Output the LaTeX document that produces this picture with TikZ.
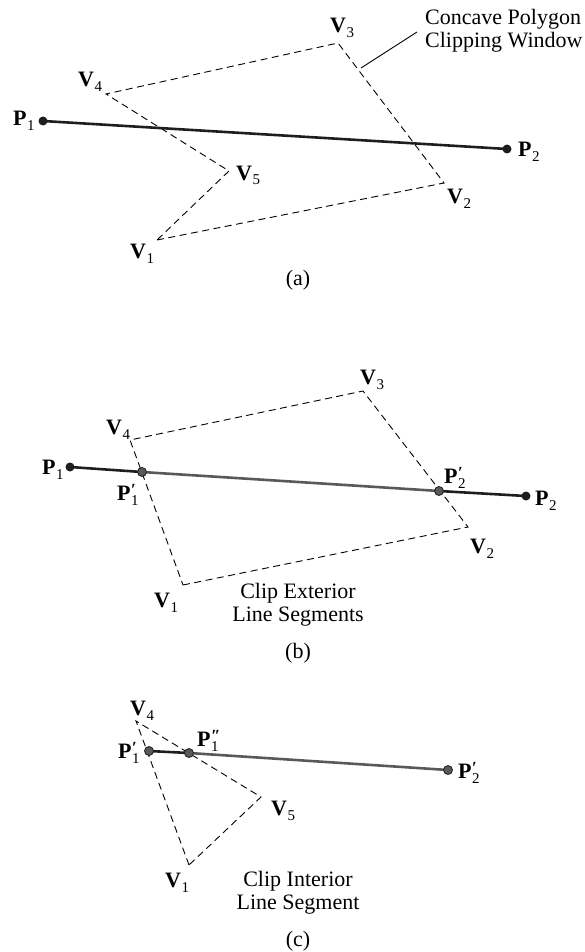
\documentclass[tikz,border=0pt]{standalone}
\usepackage{fontspec}
\setmainfont{Liberation Serif}
\definecolor{dk}{HTML}{1E1E1E}
\definecolor{gr}{HTML}{595959}
\newcommand\lb[2]{\textbf{#1}\kern0.5pt\raisebox{-5pt}{\fontsize{15}{15}\selectfont #2}}
\newcommand\lbp[3]{\textbf{#1}\kern0.5pt\rlap{\raisebox{4.5pt}{\fontsize{17}{17}\selectfont\bfseries #2}}\raisebox{-5.5pt}{\fontsize{15}{15}\selectfont #3}}
\begin{document}
\begin{tikzpicture}[x=1pt,y=-1pt,
  polyedge/.style={dash pattern=on 7pt off 4.5pt, line width=0.9pt, draw=black},
  segdark/.style={line width=2.6pt, draw=dk},
  seggray/.style={line width=2.6pt, draw=gr},
  enddot/.style={circle, fill=dk, minimum size=9pt, inner sep=0pt},
  clipdot/.style={circle, fill=gr, draw=dk, line width=0.8pt, minimum size=9pt, inner sep=0pt},
  lab/.style={anchor=base west, inner sep=0pt, font=\fontsize{22}{23}\selectfont},
  captxt/.style={inner sep=0pt, font=\fontsize{22}{23}\selectfont}]
\useasboundingbox (0,0) rectangle (585,952);

% ---------------- (a) ----------------
\coordinate (aV1) at (157,240);
\coordinate (aV2) at (444,183);
\coordinate (aV3) at (338,43);
\coordinate (aV4) at (106,94);
\coordinate (aV5) at (229,171);
\coordinate (aP1) at (43,121);
\coordinate (aP2) at (507,149);
\draw[polyedge] (aV1) -- (aV2) -- (aV3) -- (aV4) -- (aV5) -- cycle;
\draw[segdark] (aP1) -- (aP2);
\node[enddot] (aD1) at (aP1) {};
\node[enddot] (aD2) at (aP2) {};
\node[lab] (aL1) at (13,126) {\lb{P}{1}};
\node[lab] (aL2) at (518,157) {\lb{P}{2}};
\node[lab] (aLV1) at (130,258) {\lb{V}{1}};
\node[lab] (aLV2) at (447,204) {\lb{V}{2}};
\node[lab] (aLV3) at (330,33) {\lb{V}{3}};
\node[lab] (aLV4) at (78,87) {\lb{V}{4}};
\node[lab] (aLV5) at (236,180) {\lb{V}{5}};
\node[captxt, anchor=north west, align=left] (conc) at (425,9) {Concave Polygon\\Clipping Window};
\coordinate (lead1) at (361,68);
\coordinate (lead2) at (417,32);
\draw[line width=0.9pt] (lead1) -- (lead2);
\node[captxt, anchor=base] (capa) at (298,285) {(a)};

% ---------------- (b) ----------------
\coordinate (bV1) at (183,585);
\coordinate (bV2) at (468,527);
\coordinate (bV3) at (363,391);
\coordinate (bV4) at (130,440);
\coordinate (bP1) at (70,467);
\coordinate (bP2) at (526,496);
\coordinate (bQ1) at (142,472);
\coordinate (bQ2) at (439,491);
\draw[polyedge] (bV1) -- (bV2) -- (bV3) -- (bV4) -- cycle;
\draw[segdark] (bP1) -- (bQ1);
\draw[seggray] (bQ1) -- (bQ2);
\draw[segdark] (bQ2) -- (bP2);
\node[enddot] (bD1) at (bP1) {};
\node[enddot] (bD2) at (bP2) {};
\node[clipdot] (bC1) at (bQ1) {};
\node[clipdot] (bC2) at (bQ2) {};
\node[lab] (bL1) at (42,474) {\lb{P}{1}};
\node[lab] (bL2) at (535,505) {\lb{P}{2}};
\node[lab] (bL1p) at (117,500) {\lbp{P}{′}{1}};
\node[lab] (bL2p) at (444,483) {\lbp{P}{′}{2}};
\node[lab] (bLV1) at (154,607) {\lb{V}{1}};
\node[lab] (bLV2) at (470,553) {\lb{V}{2}};
\node[lab] (bLV3) at (360,384) {\lb{V}{3}};
\node[lab] (bLV4) at (106,434) {\lb{V}{4}};
\node[captxt, anchor=north, align=center] (ext) at (298,583) {Clip Exterior\\Line Segments};
\node[captxt, anchor=base] (capb) at (298,658) {(b)};

% ---------------- (c) ----------------
\coordinate (cV1) at (189,865);
\coordinate (cV4) at (136,721);
\coordinate (cV5) at (261,797);
\coordinate (cQ1) at (149,751);
\coordinate (cR1) at (189,753);
\coordinate (cQ2) at (448,770);
\draw[polyedge] (cV1) -- (cV4) -- (cV5) -- cycle;
\draw[segdark] (cQ1) -- (cR1);
\draw[seggray] (cR1) -- (cQ2);
\node[clipdot] (cC1) at (cQ1) {};
\node[clipdot] (cC2) at (cR1) {};
\node[clipdot] (cC3) at (cQ2) {};
\node[lab] (cL1p) at (118,758) {\lbp{P}{′}{1}};
\node[lab] (cL1pp) at (197,746) {\lbp{P}{″}{1}};
\node[lab] (cL2p) at (458,778) {\lbp{P}{′}{2}};
\node[lab] (cLV1) at (165,887) {\lb{V}{1}};
\node[lab] (cLV4) at (130,715) {\lb{V}{4}};
\node[lab] (cLV5) at (271,815) {\lb{V}{5}};
\node[captxt, anchor=north, align=center] (int) at (298,871) {Clip Interior\\Line Segment};
\node[captxt, anchor=base] (capc) at (298,946) {(c)};
\end{tikzpicture}
\end{document}
